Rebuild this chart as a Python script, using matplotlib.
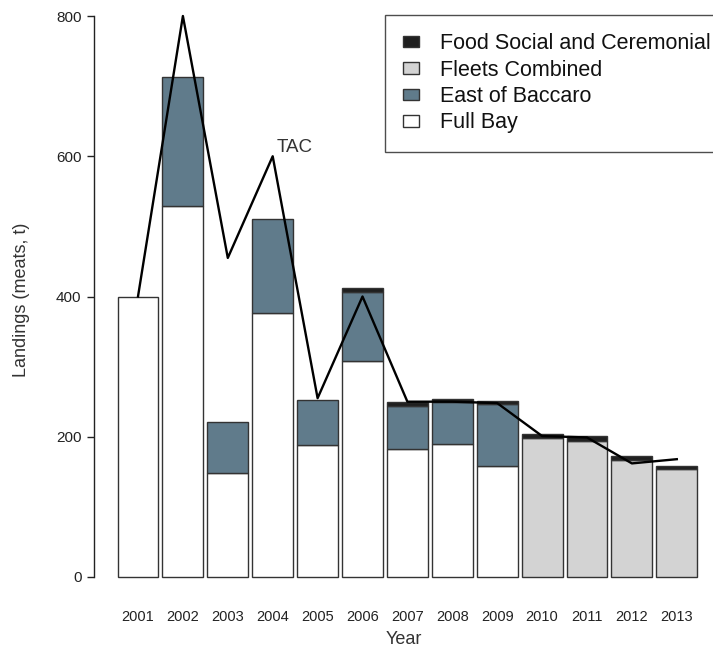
import matplotlib
matplotlib.use("Agg")
import matplotlib.pyplot as plt
from matplotlib.patches import Patch
import numpy as np

plt.rcParams['font.family'] = ['Liberation Sans', 'DejaVu Sans']

# Scallop landings by fleet (meats, t) and the total allowable catch
years = ["2001", "2002", "2003", "2004", "2005", "2006", "2007",
         "2008", "2009", "2010", "2011", "2012", "2013"]
full_bay = [400, 529, 148, 376, 188, 308, 183, 190, 158, 0, 0, 0, 0]
east_of_baccaro = [0, 184, 73, 135, 65, 98, 61, 60, 88, 0, 0, 0, 0]
fleets_combined = [0, 0, 0, 0, 0, 0, 0, 0, 0, 198, 194, 167, 154]
food_social_ceremonial = [0, 0, 0, 0, 0, 6, 5, 4, 5, 6, 7, 5, 5]
tac = [400, 800, 455, 600, 255, 400, 250, 250, 248, 201, 199, 162, 168]

series = [
    ("Full Bay", full_bay, "#ffffff"),
    ("East of Baccaro", east_of_baccaro, "#607b8b"),
    ("Fleets Combined", fleets_combined, "#d3d3d3"),
    ("Food Social and Ceremonial", food_social_ceremonial, "#1f1f1f"),
]

W, H = 713, 652
fig = plt.figure(figsize=(W / 100, H / 100), dpi=100)

# plot region in pixels
left_px, right_px = 94, 713
top_px, bottom_px = 0, 599
ax = fig.add_axes([left_px / W, 1 - bottom_px / H,
                   (right_px - left_px) / W, (bottom_px - top_px) / H])

x = np.arange(len(years))
width = 1 / 1.1
bottom = np.zeros(len(years))
for name, vals, color in series:
    vals = np.array(vals, dtype=float)
    mask = vals > 0
    ax.bar(x[mask], vals[mask], width=width, bottom=bottom[mask],
           color=color, edgecolor="#333333", linewidth=1.0, zorder=2)
    bottom += vals

ax.plot(x, tac, color="black", linewidth=1.7, zorder=3)
ax.annotate("TAC", xy=(x[3], tac[3]), xytext=(2.5, 0), textcoords="offset points",
            ha="left", va="bottom", fontsize=13.5, color="#333333")

# axis scaling: 0 at pixel 577, 800 at pixel 16
ppu = (577 - 16) / 800.0
ax.set_ylim(-(bottom_px - 577) / ppu, 800 + (16 - top_px) / ppu)
pitch_px = 44.9
ax.set_xlim(-(138 - left_px) / pitch_px, (right_px - 138) / pitch_px)

for s in ["top", "right", "bottom"]:
    ax.spines[s].set_visible(False)
ax.spines["left"].set_bounds(0, 800)
ax.spines["left"].set_linewidth(1.0)
ax.spines["left"].set_color("#222222")

ax.set_yticks([0, 200, 400, 600, 800])
ax.tick_params(axis="y", length=5, width=1.0, pad=4, labelsize=11,
               colors="#222222")
ax.set_xticks(x)
ax.set_xticklabels(years)
ax.tick_params(axis="x", length=0, pad=8, labelsize=10.5, labelcolor="#222222")

ax.set_ylabel("Landings (meats, t)", fontsize=13, color="#333333", labelpad=19)
ax.set_xlabel("Year", fontsize=13, color="#333333", labelpad=5)

handles = [Patch(facecolor=c, edgecolor="#333333", linewidth=1.0, label=n)
           for n, _, c in reversed(series)]
leg = fig.legend(handles=handles, loc="upper left",
                 bbox_to_anchor=(385 / W, 1 - 15 / H), fontsize=15.5,
                 frameon=True, fancybox=False, edgecolor="#222222",
                 borderpad=0.85, handlelength=0.75, handleheight=0.45,
                 handletextpad=0.95, labelspacing=0.25, borderaxespad=0)
leg.get_frame().set_linewidth(1.0)
for t in leg.get_texts():
    t.set_color("#111111")

fig.savefig("out.png", dpi=100)
